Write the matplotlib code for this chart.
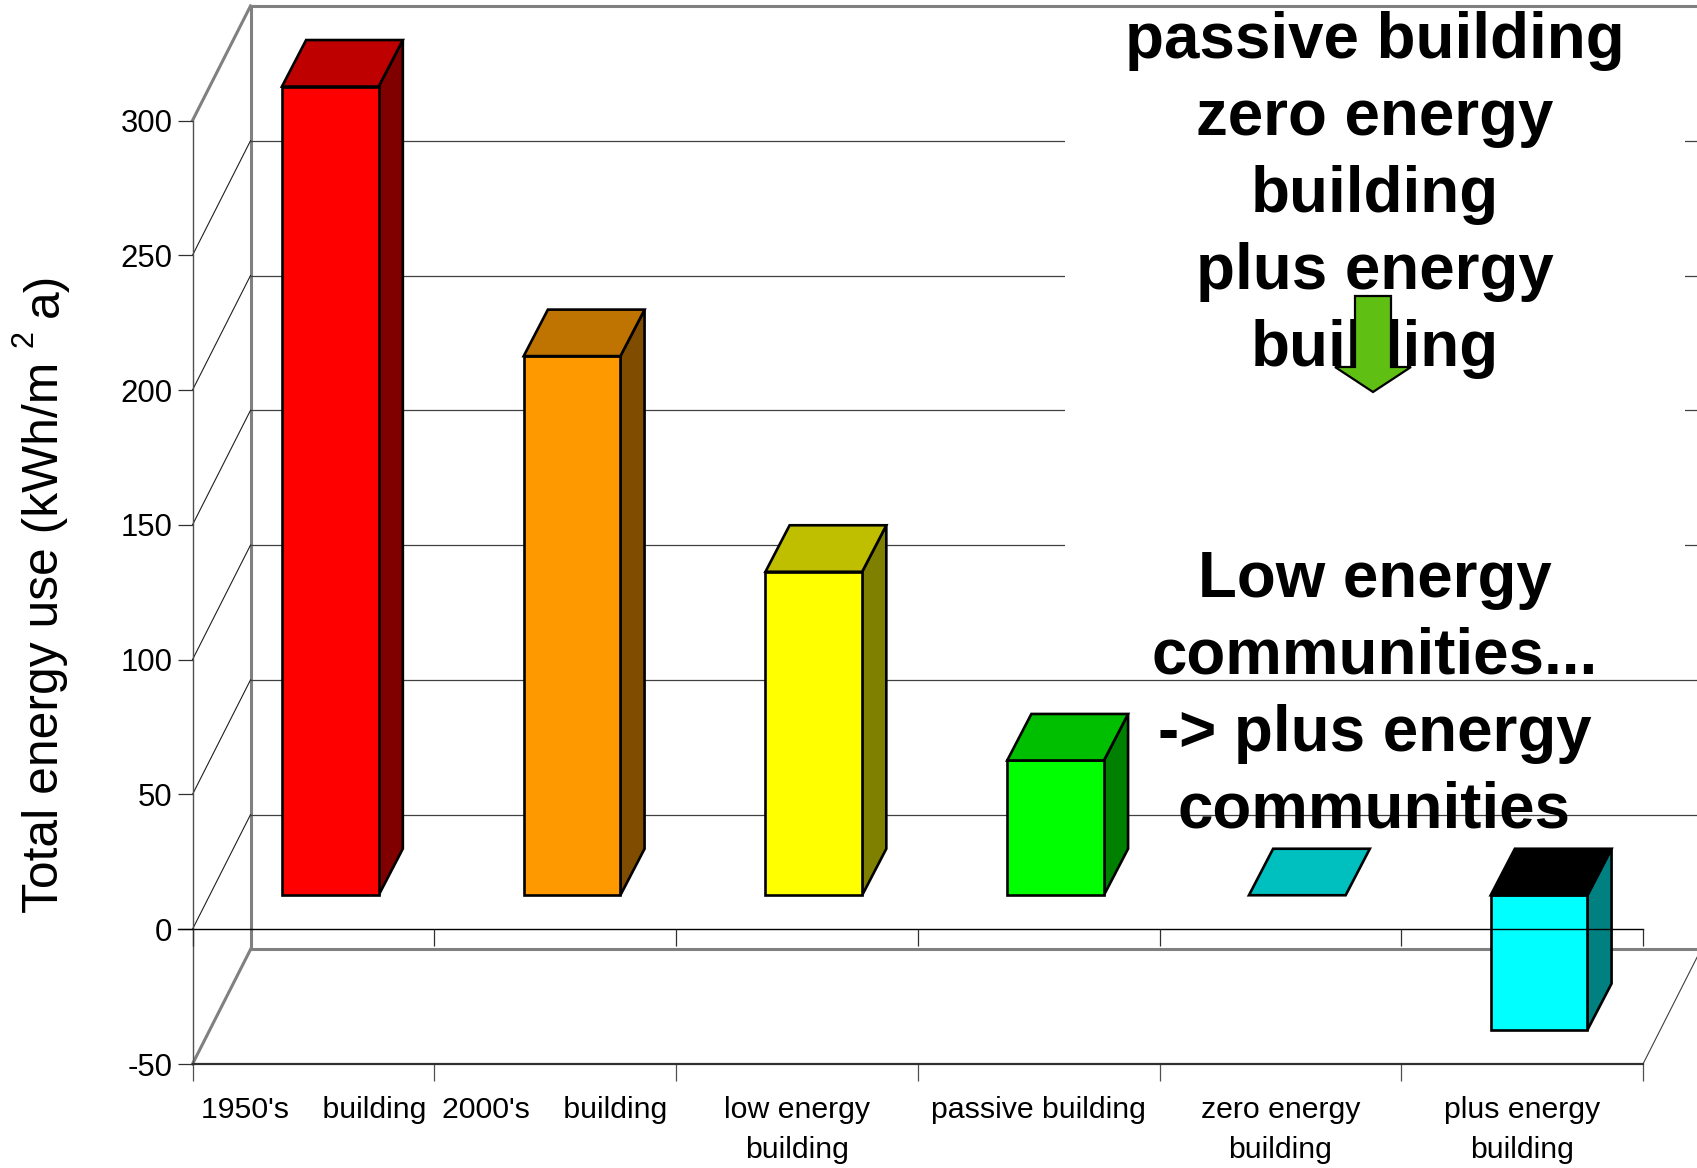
import matplotlib
matplotlib.use("Agg")
import matplotlib.pyplot as plt
from matplotlib.patches import Polygon, Rectangle
from matplotlib.transforms import Affine2D

plt.rcParams['font.family'] = ['Liberation Sans', 'DejaVu Sans']

# data
categories = ["1950's    building", "2000's    building", "low energy\nbuilding",
              "passive building", "zero energy\nbuilding", "plus energy\nbuilding"]
values = [300, 200, 120, 50, 0, -50]
front_colors = ["#FF0000", "#FF9900", "#FFFF00", "#00FF00", "#00FFFF", "#00FFFF"]
top_colors = ["#BF0000", "#BF7300", "#BFBF00", "#00BF00", "#00BFBF", "#000000"]
side_colors = ["#800000", "#804D00", "#808000", "#008000", "#008080", "#008080"]
y_ticks = [-50, 0, 50, 100, 150, 200, 250, 300]
top_lines = ["passive building", "zero energy", "building", "plus energy", "building"]
low_lines = ["Low energy", "communities...", "-> plus energy", "communities"]

# 3d look, in data units (categories / kWh)
wall_dx = 0.24
wall_dy = 42.5
bar_w = 0.4
bar_dx = 0.1
bar_dy = 17.25
front_dx = 0.07
front_dy = 12.6

fig = plt.figure(figsize=(16.97, 11.68), dpi=100)
ax = fig.add_axes([192.5 / 1697, 104 / 1168, 1450.5 / 1697, 943.5 / 1168])
ax.set_xlim(0, 6)
ax.set_ylim(-50, 300)
ax.patch.set_visible(False)

# pixels from top left, for the pasted text and arrow
px = Affine2D().scale(1, -1).translate(0, 1168)

# walls and floor
gray = "#808080"
ax.plot([wall_dx, wall_dx], [-50 + wall_dy, 300 + wall_dy], color=gray, lw=2.2, clip_on=False, zorder=1)
ax.plot([wall_dx, 6 + wall_dx], [300 + wall_dy, 300 + wall_dy], color=gray, lw=2.2, clip_on=False, zorder=1)
ax.plot([wall_dx, 6 + wall_dx], [-50 + wall_dy, -50 + wall_dy], color=gray, lw=2.2, clip_on=False, zorder=1)
ax.plot([0, wall_dx], [300, 300 + wall_dy], color=gray, lw=2.2, clip_on=False, zorder=1)
ax.plot([0, wall_dx], [-50, -50 + wall_dy], color=gray, lw=2.2, clip_on=False, zorder=1)
ax.plot([6, 6 + wall_dx], [-50, -50 + wall_dy], color="#404040", lw=0.8, clip_on=False, zorder=1)
for t in y_ticks:
    if t == -50 or t == 300:
        continue
    ax.plot([0, wall_dx], [t, t + wall_dy], color="#202020", lw=0.8, clip_on=False, zorder=1)
    ax.plot([wall_dx, 6 + wall_dx], [t + wall_dy, t + wall_dy], color="#404040", lw=0.9, clip_on=False, zorder=1)

# white text box that hides the grid
ax.add_patch(Rectangle((1065, 10), 620, 610, transform=px, facecolor="white", edgecolor="none",
                       clip_on=False, zorder=1.5))

# bars
for i, v in enumerate(values):
    x0 = i + 0.5 - bar_w / 2 + front_dx
    x1 = x0 + bar_w
    y0 = front_dy
    y1 = v + front_dy
    if v < 0:
        y0, y1 = y1, y0
    edge = dict(edgecolor="black", lw=1.9, joinstyle="miter", clip_on=False, zorder=2)
    if v != 0:
        ax.add_patch(Polygon([(x1, y0), (x1 + bar_dx, y0 + bar_dy), (x1 + bar_dx, y1 + bar_dy), (x1, y1)],
                             facecolor=side_colors[i], **edge))
        ax.add_patch(Rectangle((x0, y0), bar_w, y1 - y0, facecolor=front_colors[i], **edge))
    ax.add_patch(Polygon([(x0, y1), (x1, y1), (x1 + bar_dx, y1 + bar_dy), (x0 + bar_dx, y1 + bar_dy)],
                         facecolor=top_colors[i], **edge))

# front axes
ax.axhline(0, color="black", lw=1.0, clip_on=False, zorder=3)
ax.plot([-0.062, 0], [0, 0], color="black", lw=1.0, clip_on=False, zorder=3)
ax.vlines(range(7), -6.3, 0, color="#303030", lw=0.9, clip_on=False, zorder=3)

for s in ["top", "right"]:
    ax.spines[s].set_visible(False)
ax.spines["left"].set_color("#505050")
ax.spines["left"].set_linewidth(1.0)
ax.spines["bottom"].set_color("#303030")
ax.spines["bottom"].set_linewidth(1.6)
ax.set_yticks(y_ticks)
ax.set_yticklabels([str(t) for t in y_ticks], fontsize=22.4)
ax.tick_params(axis="y", length=10.8, width=0.9, color="#303030", pad=3.6)
ax.set_xticks(range(7))
ax.set_xticklabels([])
ax.tick_params(axis="x", which="major", length=12, width=0.9, color="#505050")
ax.set_xticks([i + 0.5 for i in range(6)], minor=True)
ax.set_xticklabels(categories, minor=True, fontsize=21.8, linespacing=1.54)
ax.tick_params(axis="x", which="minor", length=0, pad=23)

# axis title, pieces as in the original
ax.text(58, 913, "Total energy use (kWh/m", transform=px, rotation=90, rotation_mode="anchor",
        ha="left", va="baseline", fontsize=35.8, clip_on=False)
ax.text(32, 347, "2", transform=px, rotation=90, rotation_mode="anchor",
        ha="left", va="baseline", fontsize=22, clip_on=False)
ax.text(58, 317, "a)", transform=px, rotation=90, rotation_mode="anchor",
        ha="left", va="baseline", fontsize=35.8, clip_on=False)

# pasted text
for i, line in enumerate(top_lines):
    ax.text(1374.5, 58 + i * 77, line, transform=px, ha="center", va="baseline",
            fontsize=45.8, fontweight="bold", clip_on=False, zorder=4)
for i, line in enumerate(low_lines):
    ax.text(1374.5, 597 + i * 77, line, transform=px, ha="center", va="baseline",
            fontsize=45.8, fontweight="bold", clip_on=False, zorder=4)

# arrow
arrow = [(1355, 296), (1391, 296), (1391, 367), (1411, 367), (1373, 392), (1335, 367), (1355, 367)]
ax.add_patch(Polygon(arrow, transform=px, facecolor="#5FBF12", edgecolor="black", lw=1.6,
                     joinstyle="miter", clip_on=False, zorder=5))

fig.savefig("out.png", dpi=100)
